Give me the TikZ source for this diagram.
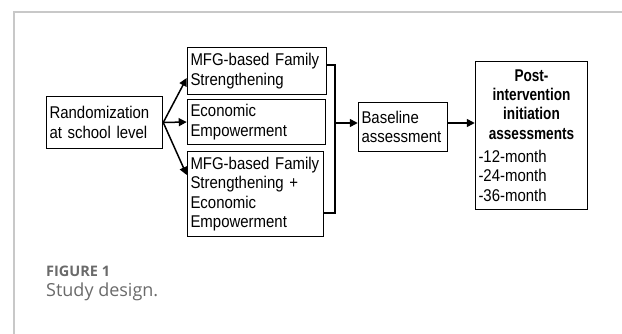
\documentclass[tikz,border=0pt]{standalone}
\usepackage{fontspec}
\setmainfont{Liberation Sans}[FakeStretch=0.88, BoldFeatures={FakeStretch=0.8}]
\newfontfamily\capfont{Open Sans}
\usetikzlibrary{arrows.meta}

\definecolor{framegray}{HTML}{C8C8C8}
\definecolor{capgray}{HTML}{6A6A6A}

\tikzset{
  box/.style={draw, line width=1.5pt, align=left, inner xsep=3pt, inner ysep=0pt,
    font=\fontsize{17}{19.3}\selectfont},
  arr/.style={-{Triangle[length=8pt,width=8pt]}, line width=1.5pt},
}
\newcommand{\monthline}[1]{\makebox[\linewidth][l]{#1}}

\begin{document}
\begin{tikzpicture}[x=1pt,y=-1pt]
\useasboundingbox (0,0) rectangle (622,334);
% frame
\draw[framegray, line width=1.5pt] (622,12) -- (14,12) -- (14,334);

% boxes
\node[box, text width=110pt, minimum height=52pt] (rand) at (104.5,122.5) {Randomization\\at school level};
\node[box, text width=133pt, minimum height=47pt] (fs) at (257,71) {MFG-based Family\\Strengthening};
\node[box, text width=132pt, minimum height=45pt] (ee) at (256.5,122) {Economic\\Empowerment};
\node[box, text width=130pt, minimum height=85pt] (fsee) at (255.5,194) {MFG-based Family\\Strengthening +\\Economic\\Empowerment};
\node[box, text width=83pt, minimum height=49pt] (base) at (403,127) {Baseline\\assessment};
\node[box, text width=106pt, minimum height=148pt, align=center] (post) at (531.5,135.5)
  {\textbf{Post-}\\\textbf{intervention}\\\textbf{initiation}\\\textbf{assessments}\\[4pt]
   \monthline{-12-month}\\\monthline{-24-month}\\\monthline{-36-month}};

% connectors
\draw[arr] (rand.east) -- ([yshift=-7pt]fs.west);
\draw[arr] (rand.east) -- (ee.west);
\draw[arr] (rand.east) -- ([yshift=19pt]fsee.west);

\coordinate (top) at (335,65);
\coordinate (bot) at (335,213);
\coordinate (join) at (335,123);
\draw[line width=1.5pt] (fs.east |- top) -- (top) -- (bot) -- (fsee.east |- bot);
\draw[arr] (join) -- (base.west |- join);
\draw[arr] (base.east |- join) -- (post.west |- join);

% caption
\node[anchor=base west, inner sep=0pt, text=capgray, font=\capfont\bfseries\fontsize{14.5}{16}\selectfont] (figlabel) at (46,276.5) {FIGURE 1};
\node[anchor=base west, inner sep=0pt, text=capgray, font=\capfont\fontsize{18}{21}\selectfont] (figcap) at (46,297) {Study design.};
\end{tikzpicture}
\end{document}
